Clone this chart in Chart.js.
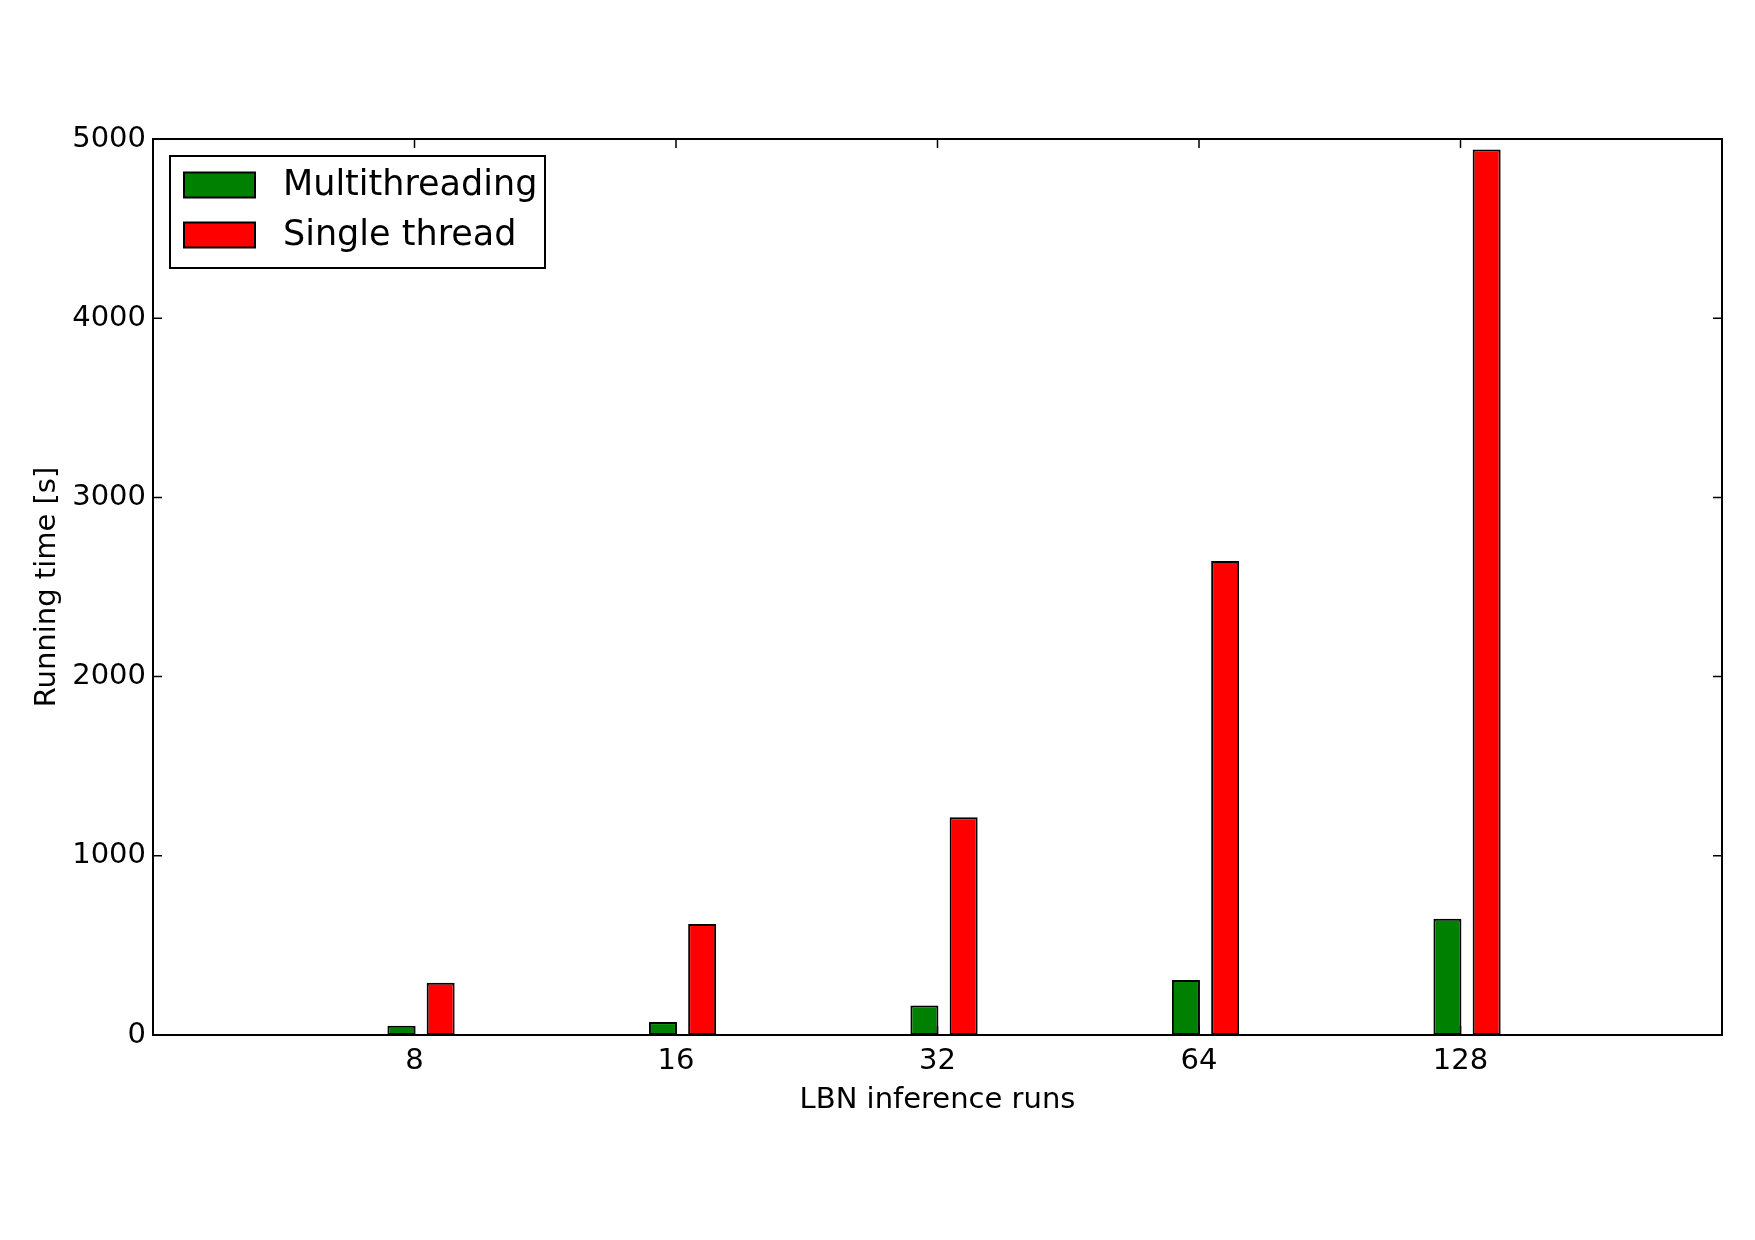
<!DOCTYPE html>
<html>
<head>
<meta charset="utf-8">
<script src="https://cdn.jsdelivr.net/npm/chart.js@4.4.0/dist/chart.umd.min.js"></script>
<style>
  html, body { margin: 0; padding: 0; background: #fff; }
  canvas { display: block; }
</style>
</head>
<body>
<canvas id="runsChart" width="1755" height="1240"></canvas>
<script>
const runs = ['8', '16', '32', '64', '128'];
const multithreading = [52, 72, 164, 307, 649];
const singleThread = [292, 620, 1215, 2645, 4942];
const yTicks = [0, 1000, 2000, 3000, 4000, 5000];

const FONT = 'DejaVu Sans';

// one empty slot each side, like the matplotlib x range
const labels = [''].concat(runs, ['']);
const pad = (arr) => [null].concat(arr, [null]);

// bars sit a bit right of the tick in the original
const shiftBars = {
  id: 'shiftBars',
  afterDatasetsUpdate(chart) {
    const xs = chart.scales.x;
    const step = xs.getPixelForValue(1) - xs.getPixelForValue(0);
    chart.data.datasets.forEach((ds, i) => {
      chart.getDatasetMeta(i).data.forEach((bar) => { bar.x += step * 0.025; });
    });
  }
};

// inward ticks, frame and boxed legend
const frame = {
  id: 'frame',
  afterDraw(chart) {
    const { ctx, chartArea: a, scales: { x, y } } = chart;
    ctx.save();
    ctx.strokeStyle = '#000';
    ctx.lineWidth = 1.5;
    ctx.beginPath();
    runs.forEach((r, i) => {
      const px = x.getPixelForValue(i + 1);
      ctx.moveTo(px, a.bottom); ctx.lineTo(px, a.bottom - 9);
      ctx.moveTo(px, a.top); ctx.lineTo(px, a.top + 9);
    });
    yTicks.forEach((v) => {
      const py = y.getPixelForValue(v);
      ctx.moveTo(a.left, py); ctx.lineTo(a.left + 9, py);
      ctx.moveTo(a.right, py); ctx.lineTo(a.right - 9, py);
    });
    ctx.stroke();
    ctx.lineWidth = 2;
    ctx.strokeRect(a.left, a.top, a.width, a.height);

    // legend
    const lx = a.left + 17, ly = a.top + 17;
    ctx.fillStyle = '#fff';
    ctx.fillRect(lx, ly, 375, 112);
    ctx.strokeRect(lx, ly, 375, 112);
    ctx.font = '35px "' + FONT + '"';
    ctx.textBaseline = 'middle';
    chart.data.datasets.forEach((ds, i) => {
      const cy = ly + 29 + i * 50;
      ctx.fillStyle = ds.backgroundColor;
      ctx.fillRect(lx + 14, cy - 12.5, 71, 25);
      ctx.lineWidth = 2;
      ctx.strokeRect(lx + 14, cy - 12.5, 71, 25);
      ctx.fillStyle = '#000';
      ctx.fillText(ds.label, lx + 113, cy + 1);
    });
    ctx.restore();
  }
};

const ctx = document.getElementById('runsChart').getContext('2d');
new Chart(ctx, {
  type: 'bar',
  data: {
    labels: labels,
    datasets: [
      {
        label: 'Multithreading',
        data: pad(multithreading),
        backgroundColor: '#008000',
        borderColor: '#000',
        borderWidth: 2,
        borderSkipped: false,
      },
      {
        label: 'Single thread',
        data: pad(singleThread),
        backgroundColor: '#ff0000',
        borderColor: '#000',
        borderWidth: 2,
        borderSkipped: false,
      },
    ],
  },
  options: {
    responsive: false,
    animation: false,
    categoryPercentage: 0.3,
    barPercentage: 0.714,
    layout: { padding: { left: 30, top: 139, right: 33, bottom: 122 } },
    plugins: { legend: { display: false }, tooltip: { enabled: false } },
    scales: {
      x: {
        offset: false,
        grid: { display: false, drawTicks: false },
        border: { display: false },
        ticks: {
          color: '#000',
          font: { family: FONT, size: 29 },
          padding: 9,
          autoSkip: false,
          maxRotation: 0,
        },
        title: {
          display: true,
          text: 'LBN inference runs',
          color: '#000',
          font: { family: FONT, size: 29 },
          padding: { top: 0, bottom: 0 },
        },
        afterFit: (scale) => { scale.height = 83; },
      },
      y: {
        min: 0,
        max: 5000,
        grid: { display: false, drawTicks: false },
        border: { display: false },
        ticks: {
          color: '#000',
          font: { family: FONT, size: 29 },
          padding: 7,
          callback: (v) => String(v),
        },
        afterBuildTicks: (scale) => { scale.ticks = yTicks.map((v) => ({ value: v })); },
        title: {
          display: true,
          text: 'Running time [s]',
          color: '#000',
          font: { family: FONT, size: 29 },
          padding: { top: 0, bottom: 0 },
        },
        afterFit: (scale) => { scale.width = 123; },
      },
    },
  },
  plugins: [shiftBars, frame],
});
</script>
</body>
</html>
